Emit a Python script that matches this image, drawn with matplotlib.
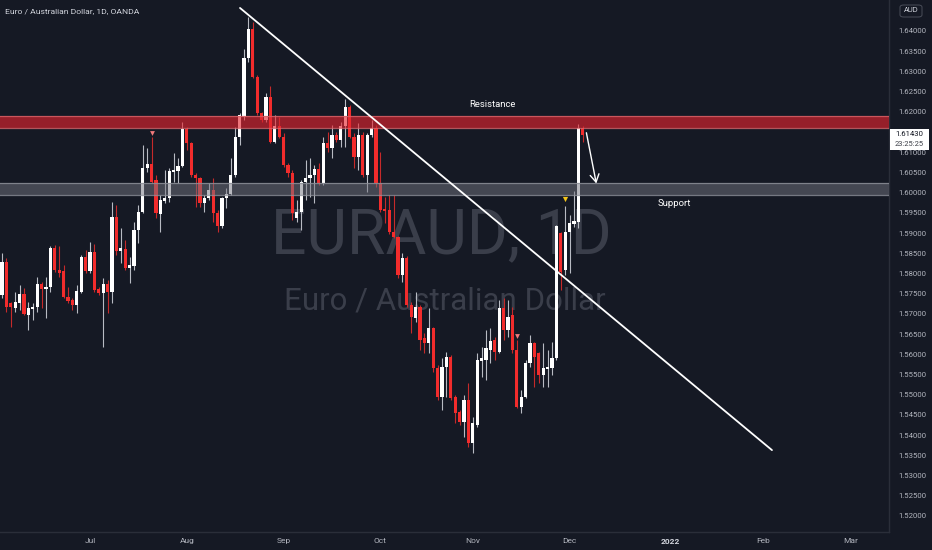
import matplotlib
matplotlib.use("Agg")
import matplotlib.pyplot as plt
import numpy as np
import pandas as pd
from matplotlib.patches import Rectangle, FancyBboxPatch

plt.rcParams['font.family'] = ['Roboto', 'DejaVu Sans']

# ---------------- data (EURAUD daily) ----------------
start_date = "2021-06-03"
opens = [1.5747, 1.5828, 1.5727, 1.5715, 1.5727, 1.5749, 1.5697, 1.5712, 1.5717, 1.5774,
         1.5762, 1.5767, 1.5863, 1.5809, 1.5806, 1.5742, 1.5734, 1.5722, 1.5754, 1.5841,
         1.5806, 1.5853, 1.5762, 1.5752, 1.5774, 1.5754, 1.5940, 1.5856, 1.5861, 1.5814,
         1.5819, 1.5908, 1.5952, 1.6061, 1.6071, 1.6031, 1.5947, 1.5979, 1.5987, 1.6051,
         1.6054, 1.6066, 1.6158, 1.6123, 1.6044, 1.6036, 1.5974, 1.5987, 1.6007, 1.5950,
         1.5918, 1.5987, 1.5997, 1.6044, 1.6138, 1.6187, 1.6333, 1.6405, 1.6286, 1.6197,
         1.6180, 1.6237, 1.6125, 1.6165, 1.6138, 1.6068, 1.6049, 1.5937, 1.5952, 1.6026,
         1.6036, 1.6044, 1.6059, 1.6024, 1.6123, 1.6111, 1.6143, 1.6130, 1.6165, 1.6212,
         1.6138, 1.6088, 1.6143, 1.6044, 1.6143, 1.6160, 1.6024, 1.5960, 1.5957, 1.5903,
         1.5890, 1.5796, 1.5838, 1.5722, 1.5690, 1.5717, 1.5640, 1.5628, 1.5665, 1.5566,
         1.5494, 1.5569, 1.5593, 1.5494, 1.5457, 1.5433, 1.5487, 1.5381, 1.5425, 1.5584,
         1.5586, 1.5611, 1.5635, 1.5606, 1.5715, 1.5660, 1.5697, 1.5611, 1.5470, 1.5494,
         1.5579, 1.5628, 1.5603, 1.5549, 1.5564, 1.5566, 1.5591, 1.5900, 1.5809, 1.5903,
         1.5922, 1.5927, 1.6160]
highs = [1.5851, 1.5838, 1.5730, 1.5754, 1.5772, 1.5764, 1.5730, 1.5727, 1.5791, 1.5779,
         1.5791, 1.5868, 1.5871, 1.5868, 1.5821, 1.5767, 1.5739, 1.5772, 1.5846, 1.5858,
         1.5878, 1.5873, 1.5767, 1.5789, 1.5784, 1.5977, 1.5970, 1.5913, 1.5883, 1.5841,
         1.5927, 1.5970, 1.6118, 1.6111, 1.6138, 1.6044, 1.5994, 1.6056, 1.6061, 1.6098,
         1.6086, 1.6175, 1.6162, 1.6125, 1.6049, 1.6039, 1.5994, 1.6024, 1.6036, 1.5957,
         1.5989, 1.6012, 1.6086, 1.6162, 1.6197, 1.6355, 1.6435, 1.6422, 1.6291, 1.6200,
         1.6247, 1.6264, 1.6192, 1.6187, 1.6148, 1.6073, 1.6056, 1.5982, 1.6031, 1.6081,
         1.6086, 1.6068, 1.6073, 1.6138, 1.6150, 1.6167, 1.6150, 1.6175, 1.6232, 1.6217,
         1.6148, 1.6172, 1.6150, 1.6148, 1.6180, 1.6167, 1.6101, 1.5989, 1.5994, 1.5994,
         1.5893, 1.5851, 1.5843, 1.5730, 1.5754, 1.5722, 1.5653, 1.5715, 1.5668, 1.5574,
         1.5591, 1.5606, 1.5598, 1.5499, 1.5462, 1.5499, 1.5529, 1.5445, 1.5603, 1.5618,
         1.5660, 1.5665, 1.5643, 1.5734, 1.5739, 1.5734, 1.5717, 1.5635, 1.5512, 1.5586,
         1.5648, 1.5631, 1.5606, 1.5628, 1.5611, 1.5631, 1.5920, 1.5903, 1.5967, 1.5945,
         1.6004, 1.6170, 1.6165]
lows = [1.5739, 1.5705, 1.5668, 1.5705, 1.5710, 1.5697, 1.5660, 1.5685, 1.5705, 1.5715,
        1.5690, 1.5754, 1.5804, 1.5791, 1.5739, 1.5727, 1.5710, 1.5702, 1.5752, 1.5801,
        1.5801, 1.5754, 1.5747, 1.5618, 1.5702, 1.5727, 1.5846, 1.5826, 1.5809, 1.5777,
        1.5809, 1.5875, 1.5950, 1.6051, 1.6024, 1.5937, 1.5903, 1.5974, 1.5977, 1.6026,
        1.6024, 1.6064, 1.6106, 1.6039, 1.5965, 1.5965, 1.5952, 1.5982, 1.5927, 1.5903,
        1.5913, 1.5962, 1.5994, 1.6039, 1.6118, 1.6180, 1.6323, 1.6284, 1.6192, 1.6175,
        1.6175, 1.6123, 1.6123, 1.6135, 1.6064, 1.6039, 1.5932, 1.5927, 1.5908, 1.5982,
        1.5989, 1.5974, 1.6019, 1.6019, 1.6101, 1.6086, 1.6125, 1.6113, 1.6113, 1.6135,
        1.6061, 1.6056, 1.6039, 1.6002, 1.6138, 1.6014, 1.5952, 1.5925, 1.5898, 1.5888,
        1.5789, 1.5779, 1.5717, 1.5653, 1.5680, 1.5611, 1.5603, 1.5603, 1.5556, 1.5487,
        1.5462, 1.5494, 1.5487, 1.5430, 1.5425, 1.5395, 1.5371, 1.5356, 1.5420, 1.5544,
        1.5537, 1.5579, 1.5586, 1.5603, 1.5635, 1.5643, 1.5603, 1.5467, 1.5455, 1.5492,
        1.5569, 1.5519, 1.5529, 1.5519, 1.5519, 1.5549, 1.5586, 1.5759, 1.5796, 1.5801,
        1.5915, 1.5913, 1.6125]
closes = [1.5828, 1.5717, 1.5717, 1.5730, 1.5749, 1.5700, 1.5715, 1.5717, 1.5774, 1.5762,
          1.5767, 1.5863, 1.5809, 1.5801, 1.5742, 1.5732, 1.5722, 1.5757, 1.5841, 1.5806,
          1.5853, 1.5759, 1.5752, 1.5774, 1.5754, 1.5940, 1.5856, 1.5863, 1.5814, 1.5821,
          1.5908, 1.5952, 1.6061, 1.6071, 1.6026, 1.5950, 1.5982, 1.5987, 1.6054, 1.6056,
          1.6066, 1.6158, 1.6123, 1.6044, 1.6036, 1.5974, 1.5987, 1.6007, 1.5950, 1.5918,
          1.5987, 1.5997, 1.6044, 1.6138, 1.6192, 1.6333, 1.6405, 1.6286, 1.6197, 1.6180,
          1.6237, 1.6125, 1.6165, 1.6138, 1.6068, 1.6049, 1.5950, 1.5952, 1.6026, 1.6036,
          1.6044, 1.6059, 1.6024, 1.6123, 1.6111, 1.6143, 1.6130, 1.6165, 1.6212, 1.6138,
          1.6088, 1.6143, 1.6044, 1.6143, 1.6160, 1.6024, 1.5957, 1.5955, 1.5903, 1.5890,
          1.5796, 1.5838, 1.5722, 1.5692, 1.5717, 1.5635, 1.5628, 1.5665, 1.5566, 1.5494,
          1.5569, 1.5593, 1.5492, 1.5455, 1.5433, 1.5487, 1.5381, 1.5430, 1.5586, 1.5591,
          1.5616, 1.5633, 1.5606, 1.5715, 1.5660, 1.5692, 1.5611, 1.5470, 1.5494, 1.5579,
          1.5628, 1.5593, 1.5549, 1.5566, 1.5569, 1.5591, 1.5918, 1.5804, 1.5903, 1.5925,
          1.5930, 1.6160, 1.6143]

resistance_zone = [1.6160, 1.6190]
support_zone = [1.5994, 1.6024]
trend_bar = [54.1, 175.0]
trend_price = [1.6457, 1.5363]
arrow_bar = [132.7, 135.2]
arrow_price = [1.6155, 1.6016]
red_marker_bar = [34, 117]
red_marker_price = [1.6148, 1.5645]
yellow_marker_bar = [128]
yellow_marker_price = [1.5984]
last_price = 1.61430
countdown = "23:25:25"
price_ticks = [round(1.52 + 0.005 * i, 3) for i in range(25)]

# ---------------- style ----------------
BG = '#151924'
UP = '#ffffff'
DN = '#f22c2c'
WICK_UP = '#b8bbc3'
WICK_DN = '#c62a2a'
TXT = '#b2b5be'
GRIDLINE = '#2a2e39'
WATERMARK = '#3a3e4a'

W, H = 932, 550
fig = plt.figure(figsize=(W / 100, H / 100), dpi=100, facecolor=BG)
ax = fig.add_axes([0, 18 / H, 889 / W, 532 / H])
ax.set_facecolor(BG)

n_total = 202
dates = pd.bdate_range(start_date, periods=n_total)

o = np.array(opens); h = np.array(highs); l = np.array(lows); c = np.array(closes)
idx = np.arange(len(o))
up = c >= o
bb = np.minimum(o, c)
bh = np.maximum(np.abs(c - o), 0.00022)

ax.vlines(idx[up], l[up], h[up], color=WICK_UP, lw=0.8, zorder=2)
ax.vlines(idx[~up], l[~up], h[~up], color=WICK_DN, lw=0.8, zorder=2)
ax.bar(idx[up], bh[up], bottom=bb[up], width=0.7, color=UP, linewidth=0, zorder=3)
ax.bar(idx[~up], bh[~up], bottom=bb[~up], width=0.7, color=DN, linewidth=0, zorder=3)

# zones
ax.axhspan(resistance_zone[0], resistance_zone[1], color=(0.9, 0.14, 0.18), alpha=0.62, lw=0, zorder=4)
for v in resistance_zone:
    ax.axhline(v, color='#d8656b', lw=0.9, alpha=0.8, zorder=4)
ax.axhspan(support_zone[0], support_zone[1], color=(0.45, 0.46, 0.5), alpha=0.5, lw=0, zorder=4)
for v in support_zone:
    ax.axhline(v, color='#8e919a', lw=0.9, alpha=0.8, zorder=4)

# trend line & arrow
ax.plot(trend_bar, trend_price, color='white', lw=1.3, zorder=5, solid_capstyle='round')
ax.annotate('', xy=(arrow_bar[1], arrow_price[1]), xytext=(arrow_bar[0], arrow_price[0]),
            arrowprops=dict(arrowstyle='->,head_length=0.55,head_width=0.32', color='white', lw=1.0),
            zorder=5)

# markers
ax.scatter(red_marker_bar, red_marker_price, marker='v', s=12, color='#f07a7c', lw=0, zorder=5)
ax.scatter(yellow_marker_bar, yellow_marker_price, marker='v', s=14, color='#f5c518', lw=0, zorder=5)

# labels
ax.text(111.4, 1.6219, 'Resistance', color='white', fontsize=6.8, ha='center', va='center', zorder=6)
ax.text(152.7, 1.5972, 'Support', color='white', fontsize=6.8, ha='center', va='center', zorder=6)

# watermark
ax.text(0.497, 0.555, 'EURAUD, 1D', transform=ax.transAxes, fontsize=45, color=WATERMARK,
        ha='center', va='center', zorder=0.5)
ax.text(0.5, 0.435, 'Euro / Australian Dollar', transform=ax.transAxes, fontsize=22.5, color=WATERMARK,
        ha='center', va='center', zorder=0.5)

# limits
ax.set_xlim(-0.45, 201.6)
ax.set_ylim(1.51604, 1.64767)

# axes
for s in ['top', 'left']:
    ax.spines[s].set_visible(False)
for s in ['right', 'bottom']:
    ax.spines[s].set_color(GRIDLINE)
    ax.spines[s].set_linewidth(1)
ax.yaxis.tick_right()
ax.set_yticks(price_ticks)
ax.set_yticklabels([f"{v:.5f}" for v in price_ticks])
ax.tick_params(axis='y', length=0, pad=7, labelsize=5.6, labelcolor=TXT)

month_pos, month_lab = [], []
prev = None
for i, d in enumerate(dates):
    if prev is not None and d.month != prev:
        month_pos.append(i)
        month_lab.append('2022' if d.month == 1 else d.strftime('%b'))
    prev = d.month
ax.set_xticks(month_pos)
ax.set_xticklabels(month_lab)
ax.tick_params(axis='x', length=0, pad=4.5, labelsize=6, labelcolor=TXT)
for t in ax.get_xticklabels():
    if t.get_text() == '2022':
        t.set_color('#d1d4dc')
        t.set_fontweight('bold')

# title
fig.text(5 / W, 1 - 11 / H, 'Euro / Australian Dollar, 1D, OANDA', fontsize=6.1, color='#d1d4dc',
         ha='left', va='center')

# AUD box
fig.patches.append(FancyBboxPatch((900 / W, 1 - 17 / H), 22 / W, 12 / H,
                                  boxstyle='round,pad=0,rounding_size=0.004',
                                  transform=fig.transFigure, facecolor=BG, edgecolor='#4a4e59', lw=0.7, zorder=10))
fig.text(911 / W, 1 - 10.5 / H, 'AUD', fontsize=5.4, color='#d1d4dc', ha='center', va='center', zorder=11)

# last price box (partly covers the 1.61000 label, as in the reference)
fig.patches.append(Rectangle((890 / W, 1 - 150 / H), 39 / W, 21 / H, transform=fig.transFigure,
                             facecolor='white', edgecolor='none', zorder=10))
fig.text(909.5 / W, 1 - 134.5 / H, f"{last_price:.5f}", fontsize=5.6, color='#131722', ha='center',
         va='center', zorder=11)
fig.text(909.5 / W, 1 - 144 / H, countdown, fontsize=5.4, color='#3a3d46', ha='center',
         va='center', zorder=11)

fig.savefig('out.png', dpi=100, facecolor=BG)
